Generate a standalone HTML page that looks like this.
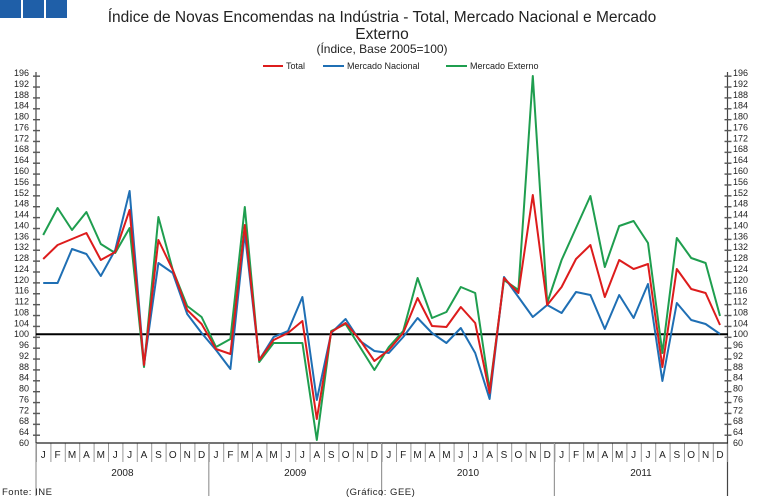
<!DOCTYPE html>
<html><head><meta charset="utf-8"><style>
html,body{margin:0;padding:0;background:#fff;}
svg{display:block;font-family:"Liberation Sans",sans-serif;}
</style></head><body>
<svg width="765" height="500" viewBox="0 0 765 500" xmlns="http://www.w3.org/2000/svg">
<defs>
<pattern id="mt" x="36" y="0" width="14.4" height="500" patternUnits="userSpaceOnUse"><rect x="0" y="0" width="1" height="500" fill="#999"/></pattern>
<pattern id="yt" x="0" y="-0.7" width="765" height="10.88" patternUnits="userSpaceOnUse"><rect x="0" y="0" width="765" height="1.4" fill="#555"/></pattern>
</defs>
<rect x="0" y="0" width="21" height="18" fill="#1f5fa8"/>
<rect x="23" y="0" width="21" height="18" fill="#1f5fa8"/>
<rect x="46" y="0" width="21" height="18" fill="#1f5fa8"/>
<g fill="#222" text-anchor="middle">
<text x="382" y="22" font-size="15.5">Índice de Novas Encomendas na Indústria - Total, Mercado Nacional e Mercado</text>
<text x="382" y="39" font-size="15.5">Externo</text>
<text x="382" y="53" font-size="12">(Índice, Base 2005=100)</text>
</g>
<g font-size="9" fill="#222">
<line x1="263" y1="66" x2="283" y2="66" stroke="#dd1c1c" stroke-width="2"/><text x="286" y="69">Total</text>
<line x1="323" y1="66" x2="344" y2="66" stroke="#1f6fb4" stroke-width="2"/><text x="347" y="69">Mercado Nacional</text>
<line x1="446" y1="66" x2="467" y2="66" stroke="#1f9e4f" stroke-width="2"/><text x="470" y="69">Mercado Externo</text>
</g>
<!-- axes -->
<line x1="36" y1="72" x2="36" y2="443" stroke="#444" stroke-width="1.2"/>
<line x1="727.5" y1="72" x2="727.5" y2="496" stroke="#444" stroke-width="1.2"/>
<rect x="33" y="72" width="7" height="372" fill="url(#yt)"/>
<rect x="724.5" y="72" width="7" height="372" fill="url(#yt)"/>
<rect x="36" y="443" width="692" height="19" fill="url(#mt)"/>
<line x1="36" y1="443" x2="728" y2="443" stroke="#222" stroke-width="1.2"/>
<g stroke="#999" stroke-width="1.2">
<line x1="36" y1="443" x2="36" y2="496"/><line x1="208.8" y1="443" x2="208.8" y2="496"/><line x1="381.6" y1="443" x2="381.6" y2="496"/><line x1="554.4" y1="443" x2="554.4" y2="496"/>
</g>
<g font-size="9" fill="#222" text-anchor="end">
<text x="29" y="446">60</text><text x="29" y="435.1">64</text><text x="29" y="424.2">68</text><text x="29" y="413.4">72</text><text x="29" y="402.5">76</text><text x="29" y="391.6">80</text><text x="29" y="380.7">84</text><text x="29" y="369.8">88</text><text x="29" y="359">92</text><text x="29" y="348.1">96</text><text x="29" y="337.2">100</text><text x="29" y="326.3">104</text><text x="29" y="315.4">108</text><text x="29" y="304.6">112</text><text x="29" y="293.7">116</text><text x="29" y="282.8">120</text><text x="29" y="271.9">124</text><text x="29" y="261">128</text><text x="29" y="250.2">132</text><text x="29" y="239.3">136</text><text x="29" y="228.4">140</text><text x="29" y="217.5">144</text><text x="29" y="206.6">148</text><text x="29" y="195.8">152</text><text x="29" y="184.9">156</text><text x="29" y="174">160</text><text x="29" y="163.1">164</text><text x="29" y="152.2">168</text><text x="29" y="141.4">172</text><text x="29" y="130.5">176</text><text x="29" y="119.6">180</text><text x="29" y="108.7">184</text><text x="29" y="97.8">188</text><text x="29" y="87">192</text><text x="29" y="76.1">196</text>
</g>
<g font-size="9" fill="#222">
<text x="733" y="446">60</text><text x="733" y="435.1">64</text><text x="733" y="424.2">68</text><text x="733" y="413.4">72</text><text x="733" y="402.5">76</text><text x="733" y="391.6">80</text><text x="733" y="380.7">84</text><text x="733" y="369.8">88</text><text x="733" y="359">92</text><text x="733" y="348.1">96</text><text x="733" y="337.2">100</text><text x="733" y="326.3">104</text><text x="733" y="315.4">108</text><text x="733" y="304.6">112</text><text x="733" y="293.7">116</text><text x="733" y="282.8">120</text><text x="733" y="271.9">124</text><text x="733" y="261">128</text><text x="733" y="250.2">132</text><text x="733" y="239.3">136</text><text x="733" y="228.4">140</text><text x="733" y="217.5">144</text><text x="733" y="206.6">148</text><text x="733" y="195.8">152</text><text x="733" y="184.9">156</text><text x="733" y="174">160</text><text x="733" y="163.1">164</text><text x="733" y="152.2">168</text><text x="733" y="141.4">172</text><text x="733" y="130.5">176</text><text x="733" y="119.6">180</text><text x="733" y="108.7">184</text><text x="733" y="97.8">188</text><text x="733" y="87">192</text><text x="733" y="76.1">196</text>
</g>
<g font-size="10" fill="#222" text-anchor="middle">
<text x="43.2 57.6 72 86.4 100.8 115.2 129.6 144 158.4 172.8 187.2 201.6" y="458">JFMAMJJASOND</text>
<text x="216 230.4 244.8 259.2 273.6 288 302.4 316.8 331.2 345.6 360 374.4" y="458">JFMAMJJASOND</text>
<text x="388.8 403.2 417.6 432 446.4 460.8 475.2 489.6 504 518.4 532.8 547.2" y="458">JFMAMJJASOND</text>
<text x="561.6 576 590.4 604.8 619.2 633.6 648 662.4 676.8 691.2 705.6 720" y="458">JFMAMJJASOND</text>
<text x="122.4" y="476">2008</text><text x="295.2" y="476">2009</text><text x="468" y="476">2010</text><text x="641" y="476">2011</text>
</g>
<g font-size="9.5" fill="#222">
<text x="2" y="495" letter-spacing="0.5">Fonte: INE</text>
<text x="346" y="495" letter-spacing="0.5">(Gráfico: GEE)</text>
</g>
<line x1="36" y1="334.2" x2="728" y2="334.2" stroke="#000" stroke-width="2"/>
<g fill="none" stroke-width="2" stroke-linejoin="round">
<polyline stroke="#1f9e4f" points="43.2,235 57.6,208 72,230 86.4,212 100.8,244 115.2,253 129.6,228 144,367 158.4,217 172.8,270 187.2,306 201.6,317 216,347 230.4,339 244.8,207 259.2,362 273.6,343 288,343 302.4,343 316.8,440 331.2,331 345.6,324 360,347 374.4,370 388.8,347 403.2,331 417.6,278 432,318 446.4,312 460.8,287 475.2,293 489.6,390 504,280 518.4,290 532.8,76 547.2,303 561.6,260 576,228 590.4,196 604.8,267 619.2,226 633.6,221 648,243 662.4,353 676.8,238 691.2,258 705.6,263 720,316"/>
<polyline stroke="#1f6fb4" points="43.2,283 57.6,283 72,249 86.4,254 100.8,276 115.2,250 129.6,191 144,365 158.4,263 172.8,273 187.2,314 201.6,333 216,350 230.4,369 244.8,233 259.2,360 273.6,337 288,331 302.4,297 316.8,400 331.2,333 345.6,319 360,341 374.4,351 388.8,353 403.2,337 417.6,318 432,333 446.4,343 460.8,328 475.2,353 489.6,399 504,277 518.4,297 532.8,317 547.2,305 561.6,313 576,292 590.4,295 604.8,329 619.2,295 633.6,318 648,284 662.4,381 676.8,303 691.2,320 705.6,324 720,334"/>
<polyline stroke="#dd1c1c" points="43.2,259 57.6,245 72,239 86.4,233 100.8,260 115.2,252 129.6,210 144,365 158.4,240 172.8,270 187.2,310 201.6,324 216,349 230.4,354 244.8,225 259.2,360 273.6,340 288,333 302.4,321 316.8,419 331.2,332 345.6,323 360,340 374.4,361 388.8,350 403.2,333 417.6,298 432,326 446.4,327 460.8,307 475.2,323 489.6,393 504,278 518.4,293 532.8,195 547.2,305 561.6,287 576,259 590.4,245 604.8,297 619.2,260 633.6,269 648,264 662.4,367 676.8,269 691.2,289 705.6,293 720,325"/>
</g>
</svg>
</body></html>
